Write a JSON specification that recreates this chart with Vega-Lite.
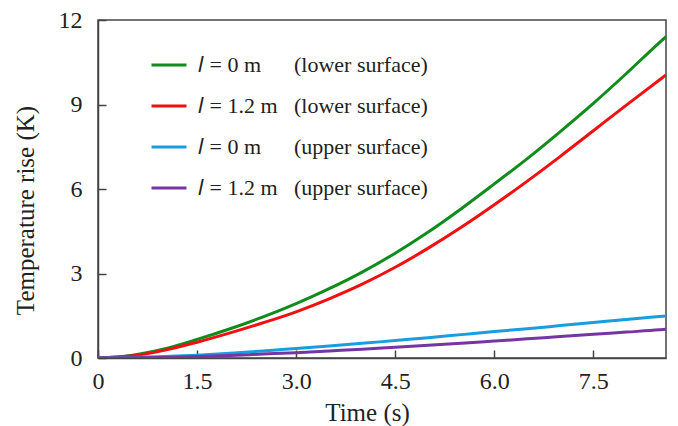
{
  "$schema": "https://vega.github.io/schema/vega-lite/v6.json",
  "width": 568,
  "height": 338,
  "autosize": {"type": "none"},
  "padding": {"left": 98, "top": 20, "right": 12, "bottom": 68},
  "background": "white",
  "config": {
    "font": "Liberation Serif",
    "view": {"stroke": "#444", "strokeWidth": 1.5},
    "axis": {
      "grid": false,
      "domainColor": "#444",
      "domainWidth": 1.5,
      "tickColor": "#444",
      "tickWidth": 1.5,
      "tickSize": -8,
      "labelFont": "Liberation Serif",
      "labelFontSize": 24,
      "labelColor": "#222",
      "titleFont": "Liberation Serif",
      "titleFontSize": 25,
      "titleFontWeight": "normal",
      "titleColor": "#222"
    },
    "legend": {
      "labelFont": "Liberation Serif",
      "labelFontSize": 22,
      "labelColor": "#222",
      "labelLimit": 400
    }
  },
  "data": {
    "values": [
      {"t": 0, "v": 0, "s": "g"}, {"t": 0.5, "v": 0.09, "s": "g"}, {"t": 1, "v": 0.32, "s": "g"}, {"t": 1.5, "v": 0.66, "s": "g"}, {"t": 2, "v": 1.04, "s": "g"}, {"t": 2.5, "v": 1.46, "s": "g"}, {"t": 3, "v": 1.93, "s": "g"}, {"t": 3.5, "v": 2.46, "s": "g"}, {"t": 4, "v": 3.05, "s": "g"}, {"t": 4.5, "v": 3.72, "s": "g"}, {"t": 5, "v": 4.47, "s": "g"}, {"t": 5.5, "v": 5.3, "s": "g"}, {"t": 6, "v": 6.18, "s": "g"}, {"t": 6.5, "v": 7.08, "s": "g"}, {"t": 7, "v": 8.04, "s": "g"}, {"t": 7.5, "v": 9.04, "s": "g"}, {"t": 8, "v": 10.1, "s": "g"}, {"t": 8.5, "v": 11.2, "s": "g"}, {"t": 8.6, "v": 11.41, "s": "g"},
      {"t": 0, "v": 0, "s": "r"}, {"t": 0.5, "v": 0.07, "s": "r"}, {"t": 1, "v": 0.27, "s": "r"}, {"t": 1.5, "v": 0.56, "s": "r"}, {"t": 2, "v": 0.89, "s": "r"}, {"t": 2.5, "v": 1.25, "s": "r"}, {"t": 3, "v": 1.64, "s": "r"}, {"t": 3.5, "v": 2.1, "s": "r"}, {"t": 4, "v": 2.62, "s": "r"}, {"t": 4.5, "v": 3.22, "s": "r"}, {"t": 5, "v": 3.9, "s": "r"}, {"t": 5.5, "v": 4.64, "s": "r"}, {"t": 6, "v": 5.44, "s": "r"}, {"t": 6.5, "v": 6.28, "s": "r"}, {"t": 7, "v": 7.16, "s": "r"}, {"t": 7.5, "v": 8.07, "s": "r"}, {"t": 8, "v": 8.98, "s": "r"}, {"t": 8.5, "v": 9.87, "s": "r"}, {"t": 8.6, "v": 10.05, "s": "r"},
      {"t": 0, "v": 0, "s": "b"}, {"t": 0.5, "v": 0.02, "s": "b"}, {"t": 1, "v": 0.05, "s": "b"}, {"t": 1.5, "v": 0.1, "s": "b"}, {"t": 2, "v": 0.17, "s": "b"}, {"t": 2.5, "v": 0.25, "s": "b"}, {"t": 3, "v": 0.34, "s": "b"}, {"t": 3.5, "v": 0.43, "s": "b"}, {"t": 4, "v": 0.52, "s": "b"}, {"t": 4.5, "v": 0.62, "s": "b"}, {"t": 5, "v": 0.72, "s": "b"}, {"t": 5.5, "v": 0.83, "s": "b"}, {"t": 6, "v": 0.94, "s": "b"}, {"t": 6.5, "v": 1.04, "s": "b"}, {"t": 7, "v": 1.15, "s": "b"}, {"t": 7.5, "v": 1.26, "s": "b"}, {"t": 8, "v": 1.37, "s": "b"}, {"t": 8.5, "v": 1.47, "s": "b"}, {"t": 8.6, "v": 1.49, "s": "b"},
      {"t": 0, "v": 0, "s": "p"}, {"t": 0.5, "v": 0.005, "s": "p"}, {"t": 1, "v": 0.02, "s": "p"}, {"t": 1.5, "v": 0.05, "s": "p"}, {"t": 2, "v": 0.09, "s": "p"}, {"t": 2.5, "v": 0.14, "s": "p"}, {"t": 3, "v": 0.19, "s": "p"}, {"t": 3.5, "v": 0.25, "s": "p"}, {"t": 4, "v": 0.31, "s": "p"}, {"t": 4.5, "v": 0.38, "s": "p"}, {"t": 5, "v": 0.45, "s": "p"}, {"t": 5.5, "v": 0.52, "s": "p"}, {"t": 6, "v": 0.6, "s": "p"}, {"t": 6.5, "v": 0.68, "s": "p"}, {"t": 7, "v": 0.76, "s": "p"}, {"t": 7.5, "v": 0.84, "s": "p"}, {"t": 8, "v": 0.92, "s": "p"}, {"t": 8.5, "v": 1.0, "s": "p"}, {"t": 8.6, "v": 1.02, "s": "p"}
    ]
  },
  "mark": {"type": "line", "strokeWidth": 3, "interpolate": "monotone", "clip": true},
  "encoding": {
    "x": {
      "field": "t", "type": "quantitative",
      "scale": {"domain": [0, 8.6], "nice": false, "zero": true},
      "axis": {"title": "Time (s)", "values": [0, 1.5, 3, 4.5, 6, 7.5], "labelExpr": "datum.value == 0 ? '0' : format(datum.value, '.1f')", "labelPadding": 19, "titlePadding": 7, "titleX": 269, "labelFlush": false}
    },
    "y": {
      "field": "v", "type": "quantitative",
      "scale": {"domain": [0, 12], "nice": false},
      "axis": {"title": "Temperature rise (K)", "values": [0, 3, 6, 9, 12], "labelPadding": 24, "titlePadding": 20, "titleY": 190, "labelFlush": false}
    },
    "color": {
      "field": "s", "type": "nominal",
      "scale": {"domain": ["g", "r", "b", "p"], "range": ["#108c1c", "#f01010", "#189ddf", "#7536a3"]},
      "legend": {
        "title": null,
        "orient": "none",
        "legendX": 52,
        "legendY": 26,
        "symbolType": "stroke",
        "symbolSize": 1225,
        "symbolStrokeWidth": 3,
        "rowPadding": 11,
        "labelOffset": 10,
        "padding": 0,
        "labelExpr": "datum.value == 'g' ? '𝑙 = 0 m\u00a0\u00a0\u00a0\u00a0\u00a0\u00a0(lower surface)' : datum.value == 'r' ? '𝑙 = 1.2 m\u00a0\u00a0\u00a0(lower surface)' : datum.value == 'b' ? '𝑙 = 0 m\u00a0\u00a0\u00a0\u00a0\u00a0\u00a0(upper surface)' : '𝑙 = 1.2 m\u00a0\u00a0\u00a0(upper surface)'"
      }
    }
  }
}
